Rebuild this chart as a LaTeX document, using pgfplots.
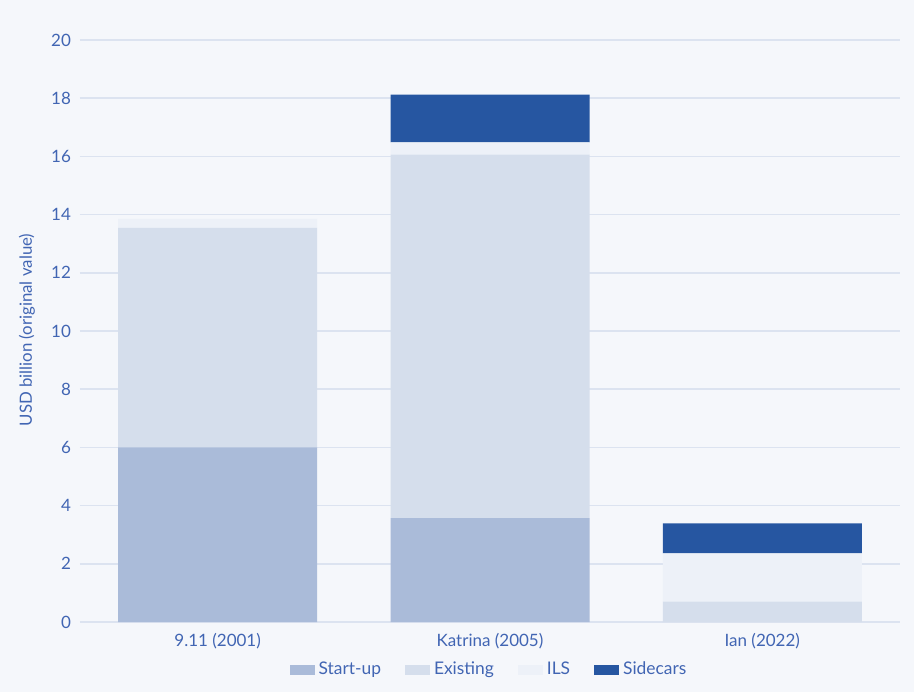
\documentclass[border=0pt]{standalone}
\usepackage{fontspec}
\setmainfont{Lato}
\usepackage{pgfplots}
\pgfplotsset{compat=1.18}
\usetikzlibrary{backgrounds}
\definecolor{bgc}{HTML}{F5F7FB}
\definecolor{startup}{HTML}{AABBD9}
\definecolor{existing}{HTML}{D5DEEC}
\definecolor{ils}{HTML}{EDF1F8}
\definecolor{sidecars}{HTML}{2656A1}
\definecolor{gridc}{HTML}{DCE3F0}
\definecolor{txt}{HTML}{4165B3}
\begin{document}
\begin{tikzpicture}[font=\fontsize{8.5}{10}\selectfont]
\begin{axis}[
  scale only axis,
  width=410pt, height=291pt,
  ybar stacked,
  bar width=99.5pt,
  xmin=-0.5055, xmax=2.5055,
  ymin=0, ymax=20,
  ytick={0,2,...,20},
  xtick=data,
  xticklabels={9.11 (2001),Katrina (2005),Ian (2022)},
  /pgf/number format/assume math mode=true,
  ymajorgrids,
  grid style={gridc, line width=0.8pt},
  axis line style={draw=none},
  major tick length=0pt,
  tick label style={text=txt},
  yticklabel style={xshift=-1pt},
  xticklabel style={yshift=-2pt},
  legend style={at={(0.5,-0.0825)}, anchor=center, draw=none, fill=none,
    legend columns=4, text=txt, font=\fontsize{8.7}{10}\selectfont,
    /tikz/every even column/.append style={column sep=10pt}},
  legend image code/.code={\fill[#1] (0pt,-2.3pt) rectangle (12.5pt,2.3pt);},
]
\addplot[fill=startup, draw=none] coordinates {(0,6.0) (1,3.57) (2,0)};
\addplot[fill=existing, draw=none] coordinates {(0,7.54) (1,12.49) (2,0.70)};
\addplot[fill=ils, draw=none] coordinates {(0,0.31) (1,0.42) (2,1.66)};
\addplot[fill=sidecars, draw=none] coordinates {(0,0) (1,1.64) (2,1.03)};
\legend{Start-up,Existing,ILS,Sidecars}
\end{axis}
\node[rotate=90, text=txt, font=\fontsize{8.4}{10}\selectfont] at (-26.5pt,146pt) {USD billion (original value)};
\begin{scope}[on background layer]
\fill[bgc] (-40pt,-35pt) rectangle (417pt,311pt);
\end{scope}
\end{tikzpicture}
\end{document}
